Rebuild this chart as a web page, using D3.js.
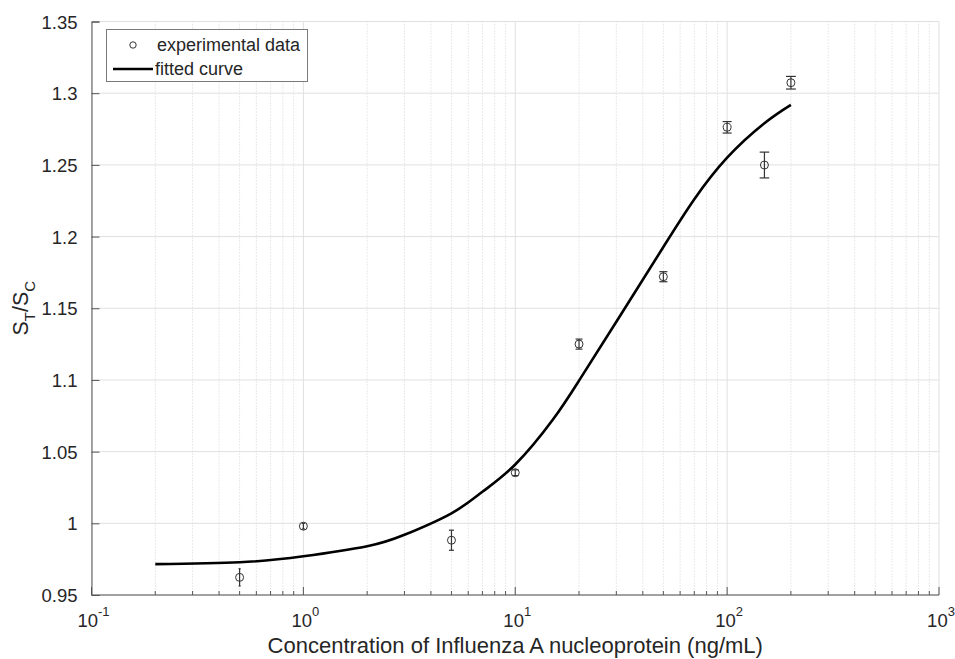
<!DOCTYPE html>
<html>
<head>
<meta charset="utf-8">
<script src="https://cdn.jsdelivr.net/npm/d3@7"></script>
<style>
  body { margin: 0; background: #fff; }
  svg { font-family: "Liberation Sans", Arial, Helvetica, sans-serif; }
</style>
</head>
<body>
<svg width="955" height="659"></svg>
<script>
// measured points (ng/mL vs S_T/S_C) with error bars
var concentrations = [0.5, 1, 5, 10, 20, 50, 100, 150, 200];
var ratios = [0.9623, 0.998, 0.9882, 1.0353, 1.125, 1.172, 1.2762, 1.2499, 1.3073];
var errors = [0.006, 0.002, 0.007, 0.002, 0.0035, 0.0035, 0.004, 0.009, 0.0044];

// fitted curve
var fitX = [0.2, 0.5, 1, 2, 3, 5, 7, 10, 15, 20, 30, 50, 70, 100, 150, 200];
var fitY = [0.9715, 0.9728, 0.977, 0.984, 0.992, 1.007, 1.022, 1.041, 1.072, 1.0995, 1.1406, 1.1927, 1.226, 1.255, 1.279, 1.2918];

var yTicks = [0.95, 1, 1.05, 1.1, 1.15, 1.2, 1.25, 1.3, 1.35];
var xDecades = [-1, 0, 1, 2, 3];

var svg, x, y;

window.addEventListener("load", main);

function main() {
  svg = d3.select("svg");

  var left = 91.5, right = 939, top = 21.5, bottom = 595;
  var textColor = "#262626";

  x = d3.scaleLog().domain([0.1, 1000]).range([left, right]);
  y = d3.scaleLinear().domain([0.95, 1.35]).range([bottom, top]);

  var minorX = [];
  xDecades.slice(0, -1).forEach(function(e) {
    for (var k = 2; k <= 9; k++) minorX.push(k * Math.pow(10, e));
  });

  // grid
  var grid = svg.append("g");
  grid.selectAll("line.minor")
    .data(minorX)
    .enter().append("line")
    .attr("x1", function(d) { return x(d); })
    .attr("x2", function(d) { return x(d); })
    .attr("y1", top).attr("y2", bottom)
    .attr("stroke", "#d4d4d4")
    .attr("stroke-width", 1)
    .attr("stroke-dasharray", "1,2");

  grid.selectAll("line.majx")
    .data(xDecades)
    .enter().append("line")
    .attr("x1", function(d) { return x(Math.pow(10, d)); })
    .attr("x2", function(d) { return x(Math.pow(10, d)); })
    .attr("y1", top).attr("y2", bottom)
    .attr("stroke", "#e0e0e0")
    .attr("stroke-width", 1);

  grid.selectAll("line.majy")
    .data(yTicks)
    .enter().append("line")
    .attr("x1", left).attr("x2", right)
    .attr("y1", function(d) { return y(d); })
    .attr("y2", function(d) { return y(d); })
    .attr("stroke", "#e0e0e0")
    .attr("stroke-width", 1);

  // axes
  var axisColor = "#555";
  var yAxis = svg.append("g")
    .attr("transform", "translate(" + left + ",0)")
    .call(d3.axisLeft(y).tickValues(yTicks).tickSize(-8)
      .tickPadding(14)
      .tickFormat(function(d) { return d3.format("")(+d.toFixed(2)); }));
  yAxis.select(".domain").attr("stroke", axisColor);
  yAxis.selectAll(".tick line").attr("stroke", axisColor);
  yAxis.selectAll(".tick text")
    .attr("font-size", 18.5)
    .attr("fill", textColor)
    .attr("dy", "0.36em");

  var xAxis = svg.append("g")
    .attr("transform", "translate(0," + bottom + ")");
  xAxis.append("line")
    .attr("x1", left).attr("x2", right)
    .attr("y1", 0).attr("y2", 0)
    .attr("stroke", axisColor);
  xAxis.selectAll("line.mtick")
    .data(minorX)
    .enter().append("line")
    .attr("x1", function(d) { return x(d); })
    .attr("x2", function(d) { return x(d); })
    .attr("y1", 0).attr("y2", -4)
    .attr("stroke", axisColor);
  xAxis.selectAll("line.tick")
    .data(xDecades)
    .enter().append("line")
    .attr("x1", function(d) { return x(Math.pow(10, d)); })
    .attr("x2", function(d) { return x(Math.pow(10, d)); })
    .attr("y1", 0).attr("y2", -8)
    .attr("stroke", axisColor);

  var labels = xAxis.selectAll("text.tl")
    .data(xDecades)
    .enter().append("text")
    .attr("x", function(d) { return x(Math.pow(10, d)) + 2; })
    .attr("y", 32)
    .attr("text-anchor", "middle")
    .attr("font-size", 18.5)
    .attr("fill", textColor);
  labels.append("tspan").text("10");
  labels.append("tspan")
    .attr("dy", -11)
    .attr("font-size", 13)
    .text(function(d) { return d; });

  // axis titles
  svg.append("text")
    .attr("x", (left + right) / 2)
    .attr("y", 653)
    .attr("text-anchor", "middle")
    .attr("font-size", 22)
    .attr("fill", textColor)
    .text("Concentration of Influenza A nucleoprotein (ng/mL)");

  var yl = svg.append("text")
    .attr("transform", "translate(28," + ((top + bottom) / 2) + ") rotate(-90)")
    .attr("text-anchor", "middle")
    .attr("font-size", 21.5)
    .attr("fill", textColor);
  yl.append("tspan").text("S");
  yl.append("tspan").attr("dy", 7).attr("font-size", 15).text("T");
  yl.append("tspan").attr("dy", -7).text("/S");
  yl.append("tspan").attr("dy", 7).attr("font-size", 15).text("C");

  // fitted curve
  var fit = fitX.map(function(d, i) { return [d, fitY[i]]; });
  var line = d3.line()
    .x(function(d) { return x(d[0]); })
    .y(function(d) { return y(d[1]); })
    .curve(d3.curveNatural);
  svg.append("path")
    .datum(fit)
    .attr("d", line)
    .attr("fill", "none")
    .attr("stroke", "#000")
    .attr("stroke-width", 2.6);

  // error bars and markers
  var pts = concentrations.map(function(d, i) {
    return { c: d, v: ratios[i], e: errors[i] };
  });
  var markColor = "#333";
  var pg = svg.append("g").selectAll("g")
    .data(pts)
    .enter().append("g");

  pg.append("line")
    .attr("x1", function(d) { return x(d.c); })
    .attr("x2", function(d) { return x(d.c); })
    .attr("y1", function(d) { return y(d.v - d.e); })
    .attr("y2", function(d) { return y(d.v + d.e); })
    .attr("stroke", markColor)
    .attr("stroke-width", 1.2);

  [-1, 1].forEach(function(s) {
    pg.append("line")
      .attr("x1", function(d) { return x(d.c) - capHalf(d.c); })
      .attr("x2", function(d) { return x(d.c) + capHalf(d.c); })
      .attr("y1", function(d) { return y(d.v + s * d.e); })
      .attr("y2", function(d) { return y(d.v + s * d.e); })
      .attr("stroke", markColor)
      .attr("stroke-width", 1.2);
  });

  pg.append("circle")
    .attr("cx", function(d) { return x(d.c); })
    .attr("cy", function(d) { return y(d.v); })
    .attr("r", 4)
    .attr("fill", "none")
    .attr("stroke", markColor)
    .attr("stroke-width", 1);

  // legend
  var lg = svg.append("g");
  lg.append("rect")
    .attr("x", 106.5).attr("y", 29.5)
    .attr("width", 201).attr("height", 52)
    .attr("fill", "#fff")
    .attr("stroke", "#7a7a7a")
    .attr("stroke-width", 1);
  lg.append("circle")
    .attr("cx", 133).attr("cy", 45).attr("r", 3.2)
    .attr("fill", "none").attr("stroke", markColor);
  lg.append("line")
    .attr("x1", 113).attr("x2", 153)
    .attr("y1", 69).attr("y2", 69)
    .attr("stroke", "#000").attr("stroke-width", 2.6);
  lg.append("text")
    .attr("x", 157).attr("y", 51)
    .attr("font-size", 18).attr("fill", textColor)
    .text("experimental data");
  lg.append("text")
    .attr("x", 155).attr("y", 75)
    .attr("font-size", 18).attr("fill", textColor)
    .text("fitted curve");
}

function capHalf(c) {
  return Math.max(0, 1.5 * Math.log10(c) + 1.5);
}
</script>
</body>
</html>
